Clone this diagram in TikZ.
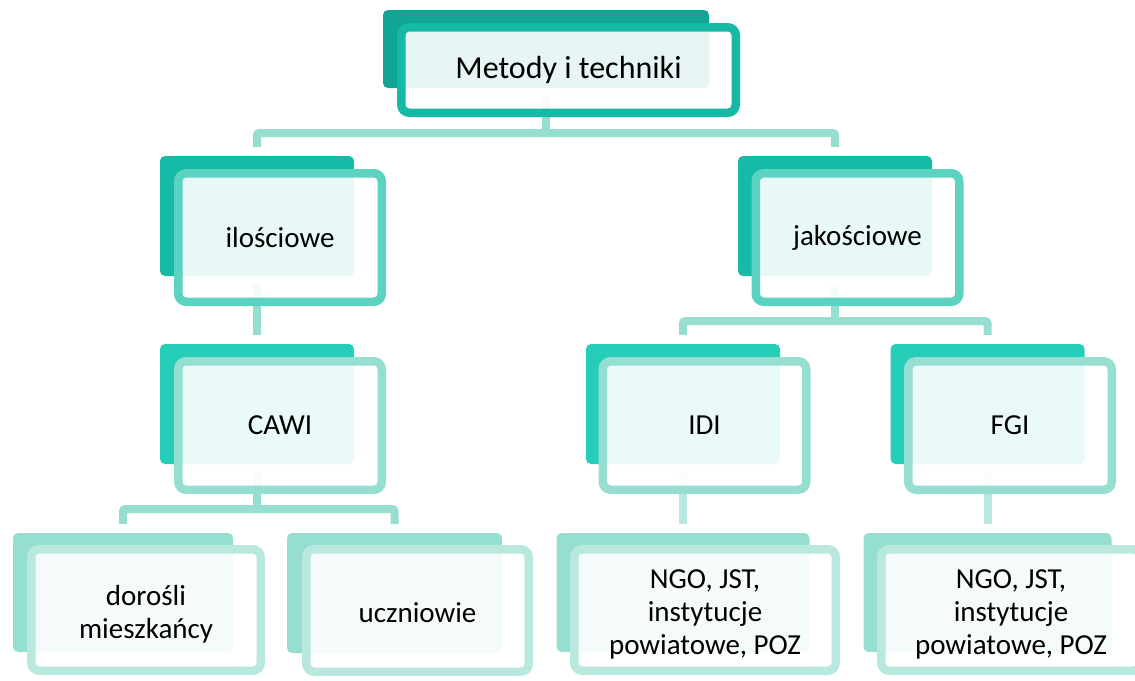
\documentclass[tikz,border=0pt]{standalone}
\usepackage{fontspec}
\setmainfont{Carlito}
\usetikzlibrary{backgrounds}
\definecolor{bkzero}{HTML}{13A594}
\definecolor{frzero}{HTML}{16B9A5}
\definecolor{bkone}{HTML}{16BAA6}
\definecolor{frone}{HTML}{5CD2C0}
\definecolor{bktwo}{HTML}{26CEB9}
\definecolor{frtwo}{HTML}{96DED0}
\definecolor{bkthree}{HTML}{96DED0}
\definecolor{frthree}{HTML}{B9E8DF}
\definecolor{connA}{HTML}{96DED0}
\definecolor{connB}{HTML}{B9E8DF}
\newcommand{\lowtext}[1]{\raisebox{-5pt}[\dimexpr\height+5pt\relax][\dimexpr\depth+5pt\relax]{\begin{tabular}{@{}c@{}}#1\end{tabular}}}
\begin{document}
\begin{tikzpicture}[x=1pt,y=-1pt,
  backbox/.style={rectangle, rounded corners=5pt, inner sep=0pt, draw=none},
  frontbox/.style={rectangle, rounded corners=8pt, inner sep=0pt, line width=8.5pt,
    fill=white, fill opacity=0.9, text opacity=1, align=center, text=black,
    font=\fontsize{29}{33}\selectfont},
  conn/.style={line width=8pt, rounded corners=2pt}]
\useasboundingbox (0,0) rectangle (1135,680);

% level 0
\node[backbox, fill=bkzero, minimum width=326pt, minimum height=78pt] (b0) at (546,49) {};
\node[frontbox, draw=frzero, minimum width=334.5pt, minimum height=85.5pt,
  font=\fontsize{32}{38}\selectfont] (f0) at (568.5,70) {Metody i techniki};

% level 1
\node[backbox, fill=bkone, minimum width=194pt, minimum height=120pt] (b1a) at (257,216) {};
\node[frontbox, draw=frone, minimum width=203.5pt, minimum height=128.5pt] (f1a) at (280,237.5) {ilościowe};
\node[backbox, fill=bkone, minimum width=194pt, minimum height=120pt] (b1b) at (835,216) {};
\node[frontbox, draw=frone, minimum width=203.5pt, minimum height=128.5pt] (f1b) at (857.5,237.5) {jakościowe};

% level 2
\node[backbox, fill=bktwo, minimum width=194pt, minimum height=120pt] (b2a) at (257,404) {};
\node[frontbox, draw=frtwo, minimum width=203.5pt, minimum height=128.5pt] (f2a) at (280,425.5) {CAWI};
\node[backbox, fill=bktwo, minimum width=194pt, minimum height=120pt] (b2b) at (683,404) {};
\node[frontbox, draw=frtwo, minimum width=203.5pt, minimum height=128.5pt] (f2b) at (704.5,425.5) {IDI};
\node[backbox, fill=bktwo, minimum width=194pt, minimum height=120pt] (b2c) at (987.5,404) {};
\node[frontbox, draw=frtwo, minimum width=203.5pt, minimum height=128.5pt] (f2c) at (1010,425.5) {FGI};

% level 3
\node[backbox, fill=bkthree, minimum width=220pt, minimum height=119pt] (b3a) at (123,592.5) {};
\node[frontbox, draw=frthree, minimum width=229.5pt, minimum height=121.5pt] (f3a) at (146,610) {\lowtext{dorośli\\mieszkańcy}};
\node[backbox, fill=bkthree, minimum width=215pt, minimum height=120pt] (b3b) at (394.5,593) {};
\node[frontbox, draw=frthree, minimum width=222.5pt, minimum height=122.5pt] (f3b) at (417.5,610.5) {\lowtext{uczniowie}};
\node[backbox, fill=bkthree, minimum width=253pt, minimum height=119pt] (b3c) at (683,592.5) {};
\node[frontbox, draw=frthree, minimum width=261.5pt, minimum height=121.5pt] (f3c) at (705,610) {\lowtext{NGO, JST,\\instytucje\\powiatowe, POZ}};
\node[backbox, fill=bkthree, minimum width=248pt, minimum height=119pt] (b3d) at (987.5,592.5) {};
\node[frontbox, draw=frthree, minimum width=259.5pt, minimum height=121.5pt] (f3d) at (1011,610) {\lowtext{NGO, JST,\\instytucje\\powiatowe, POZ}};

% connectors
\begin{scope}[on background layer]
\draw[conn, connA] ([yshift=-9pt]b0.south) -- ([yshift=-45pt]b0.south);
\draw[conn, connA] ([yshift=9pt]b1a.north) |- ([yshift=-45pt]b0.south) -| ([yshift=9pt]b1b.north);
\draw[conn, connA] ([yshift=-9pt]b1a.south) -- ([yshift=9pt]b2a.north);
\draw[conn, connA] ([yshift=-9pt]b1b.south) -- ([yshift=-45pt]b1b.south);
\draw[conn, connA] ([yshift=9pt]b2b.north) |- ([yshift=-45pt]b1b.south) -| ([yshift=9pt]b2c.north);
\draw[conn, connA] ([yshift=-9pt]b2a.south) -- ([yshift=-45pt]b2a.south);
\draw[conn, connA] ([yshift=9pt]b3a.north) |- ([yshift=-45pt]b2a.south) -| ([yshift=9pt]b3b.north);
\draw[conn, connB] ([yshift=-9pt]b2b.south) -- ([yshift=9pt]b3c.north);
\draw[conn, connB] ([yshift=-9pt]b2c.south) -- ([yshift=9pt]b3d.north);
\end{scope}
\end{tikzpicture}
\end{document}
